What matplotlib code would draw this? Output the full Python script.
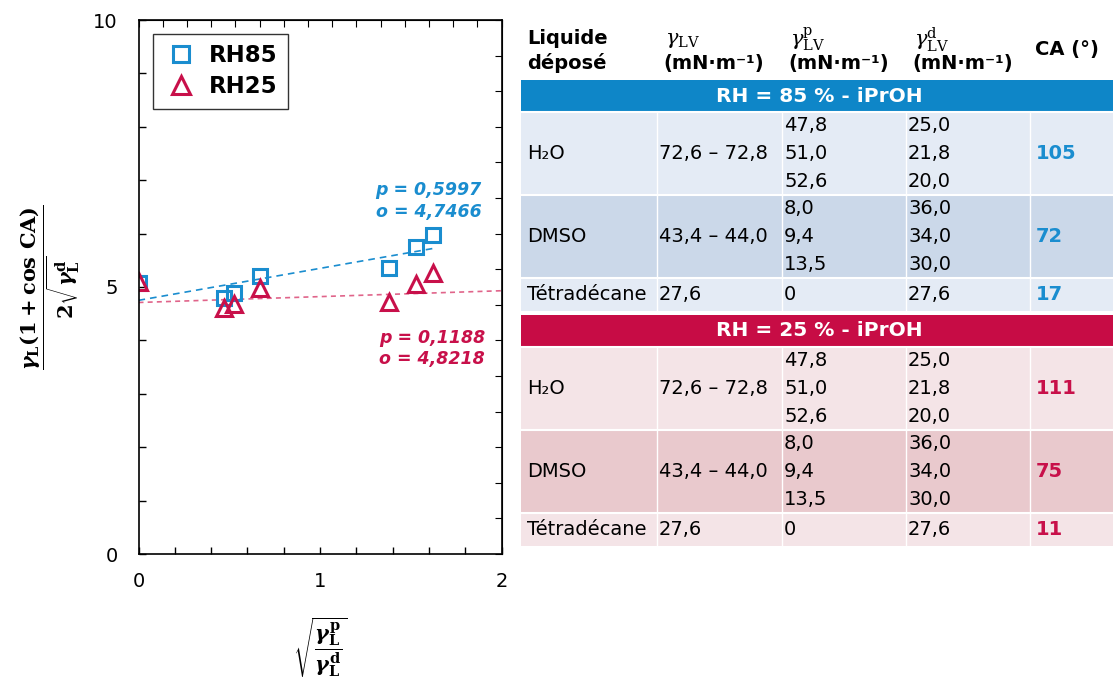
import matplotlib.pyplot as plt
from matplotlib.patches import Rectangle
from matplotlib.ticker import MultipleLocator, FixedLocator, NullFormatter
import numpy as np

plt.rcParams['font.family'] = 'DejaVu Sans'
plt.rcParams['mathtext.fontset'] = 'custom'
plt.rcParams['mathtext.rm'] = 'DejaVu Serif:bold'
plt.rcParams['mathtext.it'] = 'DejaVu Serif:italic:bold'
plt.rcParams['mathtext.bf'] = 'DejaVu Serif:bold'
plt.rcParams['mathtext.sf'] = 'DejaVu Serif'
plt.rcParams['mathtext.cal'] = 'DejaVu Serif:italic'

BLUE = '#1a8dcf'
RED = '#c8104a'

# --- plot data ---
sqrt_ratio = [0, 0.47, 0.528, 0.671, 1.381, 1.528, 1.623]
y_rh85 = [5.07, 4.80, 4.88, 5.21, 5.35, 5.74, 5.97]
y_rh25 = [5.09, 4.60, 4.69, 4.99, 4.72, 5.06, 5.27]
fit85_x = [0, 1.62]
fit85_y = [4.75, 5.72]
fit25_x = [0, 2.0]
fit25_y = [4.71, 4.93]
fit85_text = ['p = 0,5997', 'o = 4,7466']
fit25_text = ['p = 0,1188', 'o = 4,8218']

# --- table data ---
liquids = ['H₂O', 'DMSO', 'Tétradécane']
gamma_lv = ['72,6 – 72,8', '43,4 – 44,0', '27,6']
gamma_p = [['47,8', '51,0', '52,6'], ['8,0', '9,4', '13,5'], ['0']]
gamma_d = [['25,0', '21,8', '20,0'], ['36,0', '34,0', '30,0'], ['27,6']]
ca_rh85 = ['105', '72', '17']
ca_rh25 = ['111', '75', '11']

W, H = 1113, 684
fig = plt.figure(figsize=(W / 100, H / 100), dpi=100)

# scatter plot
ax = fig.add_axes([138.5 / W, (H - 554) / H, 363 / W, 534 / H])
ax.plot(fit85_x, fit85_y, ls=(0, (4, 3)), color=BLUE, lw=1.2)
ax.plot(fit25_x, fit25_y, ls=(0, (3, 2.5)), color='#e0648a', lw=1.2)
ax.plot(sqrt_ratio, y_rh85, 's', ms=10.5, mfc='none', mec=BLUE, mew=2.2, label='RH85')
ax.plot(sqrt_ratio, y_rh25, '^', ms=11.5, mfc='none', mec=RED, mew=2.2, label='RH25')

ax.set_xlim(0, 2)
ax.set_ylim(0, 10)
ax.xaxis.set_major_locator(MultipleLocator(1))
ax.xaxis.set_minor_locator(MultipleLocator(0.2))
ax.yaxis.set_major_locator(MultipleLocator(5))
ax.yaxis.set_minor_locator(MultipleLocator(1))
ax.tick_params(which='both', direction='in', labelsize=14, width=1)
ax.tick_params(which='both', length=5)
ax.tick_params(axis='x', pad=13)
ax.tick_params(axis='y', pad=15)
for s in ax.spines.values():
    s.set_linewidth(1.2)

top = ax.secondary_xaxis('top')
top.xaxis.set_major_locator(FixedLocator(np.linspace(0, 2, 16)))
top.xaxis.set_major_formatter(NullFormatter())
top.tick_params(direction='in', length=5)
right = ax.secondary_yaxis('right')
right.yaxis.set_major_locator(FixedLocator(np.linspace(0, 10, 16)))
right.yaxis.set_major_formatter(NullFormatter())
right.tick_params(direction='in', length=5)

leg = ax.legend(loc='upper left', bbox_to_anchor=(0.04, 0.974), borderaxespad=0,
                fancybox=False, edgecolor='black', numpoints=1, markerscale=1.15,
                prop={'weight': 'bold', 'size': 16.5}, handlelength=1.5,
                handletextpad=0.5, borderpad=0.45, labelspacing=0.35)
leg.get_frame().set_linewidth(1.0)

for txt, yy in zip(fit85_text, [6.82, 6.40]):
    ax.text(1.89, yy, txt, color=BLUE, ha='right', va='center',
            fontsize=12.5, fontweight='bold', fontstyle='italic')
for txt, yy in zip(fit25_text, [4.05, 3.65]):
    ax.text(1.91, yy, txt, color=RED, ha='right', va='center',
            fontsize=12.5, fontweight='bold', fontstyle='italic')

fig.text(50 / W, 1 - 287 / H,
         r'$\dfrac{\gamma_\mathrm{L}(1+\cos\,\mathrm{CA})}{2\sqrt{\gamma_\mathrm{L}^\mathrm{d}}}$',
         rotation=90, ha='center', va='center', fontsize=15)
fig.text(320 / W, 1 - 648 / H,
         r'$\sqrt{\dfrac{\gamma_\mathrm{L}^\mathrm{p}}{\gamma_\mathrm{L}^\mathrm{d}}}$',
         ha='center', va='center', fontsize=15)

# table drawn in pixel coordinates
tab = fig.add_axes([0, 0, 1, 1])
tab.set_xlim(0, W)
tab.set_ylim(H, 0)
tab.axis('off')
tab.patch.set_alpha(0)

col_x = [521, 657, 782, 906, 1030, 1113]
fs = 14

tab.text(527, 38, 'Liquide', fontsize=fs, fontweight='bold', va='center')
tab.text(527, 63, 'déposé', fontsize=fs, fontweight='bold', va='center')
gam_heads = [r'$\mathcal{\gamma}_{\mathsf{LV}}$',
             r'$\mathcal{\gamma}_{\mathsf{LV}}^{\mathsf{p}}$',
             r'$\mathcal{\gamma}_{\mathsf{LV}}^{\mathsf{d}}$']
for c, g in zip([1, 2, 3], gam_heads):
    tab.text(col_x[c] + 8, 40, g, fontsize=15, va='center')
    tab.text(col_x[c] + 6, 64, '(mN·m⁻¹)', fontsize=fs, fontweight='bold', va='center')
tab.text(col_x[4] + 5, 50, 'CA (°)', fontsize=fs, fontweight='bold', va='center')


def section(y0, band, light, dark, title, ca_vals, ca_color):
    tab.add_patch(Rectangle((col_x[0], y0), col_x[-1] - col_x[0], 32, color=band, lw=0))
    tab.text(819, y0 + 16, title, color='white', fontsize=14.5, fontweight='bold',
             ha='center', va='center')
    heights = [83, 83, 33]
    y = y0 + 32
    for i in range(3):
        h = heights[i]
        fill = dark if i == 1 else light
        tab.add_patch(Rectangle((col_x[0], y), col_x[-1] - col_x[0], h, color=fill, lw=0))
        for cx in col_x[1:-1]:
            tab.plot([cx, cx], [y, y + h], color='white', lw=1.0)
        tab.plot([col_x[0], col_x[-1]], [y, y], color='white', lw=1.5)
        yc = y + h / 2
        tab.text(col_x[0] + 6, yc, liquids[i], fontsize=fs, va='center')
        tab.text(col_x[1] + 2, yc, gamma_lv[i], fontsize=fs, va='center')
        n = len(gamma_p[i])
        offs = [0] if n == 1 else [-28, 0, 28]
        for k in range(n):
            tab.text(col_x[2] + 2, yc + offs[k], gamma_p[i][k], fontsize=fs, va='center')
            tab.text(col_x[3] + 2, yc + offs[k], gamma_d[i][k], fontsize=fs, va='center')
        tab.text(col_x[4] + 6, yc, ca_vals[i], fontsize=fs, fontweight='bold',
                 color=ca_color, va='center')
        y += h


section(80, '#0e86c8', '#e4ebf5', '#cbd8e9', 'RH = 85 % - iPrOH', ca_rh85, BLUE)
section(315, '#c70c45', '#f4e4e7', '#e9c9cd', 'RH = 25 % - iPrOH', ca_rh25, RED)

fig.savefig('out.png', dpi=100)
